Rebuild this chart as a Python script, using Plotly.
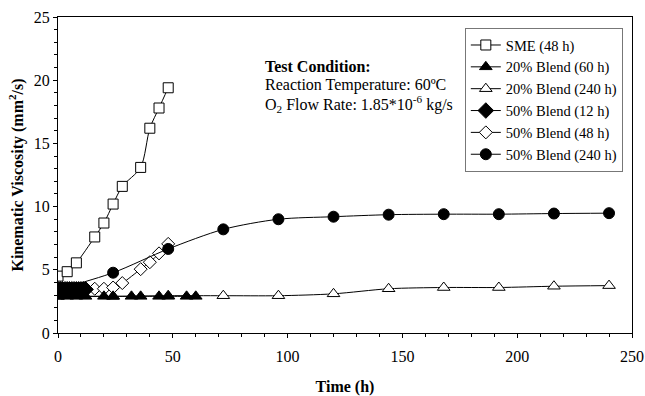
import plotly.graph_objects as go

# SME (48 h)
sme_t = [0, 4, 8, 16, 20, 24, 28, 36, 40, 44, 48]
sme_v = [4.5, 4.85, 5.55, 7.6, 8.7, 10.2, 11.6, 13.1, 16.2, 17.8, 19.4]

# 20% Blend (60 h)
b20s_t = [0, 4, 8, 12, 20, 24, 32, 36, 44, 48, 56, 60]
b20s_v = [2.9, 2.9, 2.9, 2.9, 2.9, 2.9, 2.9, 2.9, 2.9, 2.9, 2.9, 2.9]

# 20% Blend (240 h)
b20l_t = [0, 24, 48, 72, 96, 120, 144, 168, 192, 216, 240]
b20l_v = [2.9, 2.9, 2.95, 2.95, 2.95, 3.1, 3.5, 3.6, 3.6, 3.7, 3.75]

# 50% Blend (12 h)
b50s_t = [0, 1, 2, 3, 4, 5, 6, 7, 8, 9, 10, 11, 12]
b50s_v = [3.45, 3.45, 3.45, 3.45, 3.45, 3.45, 3.45, 3.45, 3.45, 3.45, 3.45, 3.45, 3.45]

# 50% Blend (48 h)
b50m_t = [0, 4, 8, 12, 16, 20, 24, 28, 36, 40, 44, 48]
b50m_v = [3.45, 3.45, 3.45, 3.45, 3.5, 3.5, 3.6, 3.95, 5.05, 5.6, 6.3, 7.05]

# 50% Blend (240 h)
b50l_t = [0, 24, 48, 72, 96, 120, 144, 168, 192, 216, 240]
b50l_v = [3.45, 4.77, 6.65, 8.2, 9.0, 9.2, 9.36, 9.4, 9.4, 9.45, 9.48]

names = ["SME (48 h)", "20% Blend (60 h)", "20% Blend (240 h)",
         "50% Blend (12 h)", "50% Blend (48 h)", "50% Blend (240 h)"]

FONT = "Liberation Serif, Times New Roman, serif"

fig = go.Figure()

def add(t, v, name, symbol, size, fill, rank):
    fig.add_trace(go.Scatter(
        x=t, y=v, name=name, mode="lines+markers", legendrank=rank,
        line=dict(color="black", width=1, shape="spline", smoothing=0.8),
        marker=dict(symbol=symbol, size=size,
                    color="black" if fill else "white",
                    line=dict(color="black", width=1)),
    ))

# drawing order: open markers first, filled markers on top; legend order by rank
add(sme_t, sme_v, names[0], "square", 10, False, 1)
add(b20l_t, b20l_v, names[2], "triangle-up", 11, False, 3)
add(b50m_t, b50m_v, names[4], "diamond", 10, False, 5)
add(b20s_t, b20s_v, names[1], "triangle-up", 11, True, 2)
add(b50s_t, b50s_v, names[3], "diamond", 12, True, 4)
add(b50l_t, b50l_v, names[5], "circle", 11, True, 6)

fig.add_annotation(x=89.5, y=21.05, xref="x", yref="y", xanchor="left", yanchor="middle",
                   text="<b>Test Condition:</b>", showarrow=False,
                   font=dict(family=FONT, size=16, color="black"))
fig.add_annotation(x=89.5, y=19.6, xref="x", yref="y", xanchor="left", yanchor="middle",
                   text="Reaction Temperature: 60ºC", showarrow=False,
                   font=dict(family=FONT, size=16, color="black"))
fig.add_annotation(x=89.5, y=18.15, xref="x", yref="y", xanchor="left", yanchor="middle",
                   text="O<sub>2</sub> Flow Rate: 1.85*10<sup>-6</sup> kg/s", showarrow=False,
                   font=dict(family=FONT, size=16, color="black"))

fig.update_layout(
    width=645, height=396,
    margin=dict(l=58, r=13, t=17, b=63, autoexpand=False),
    paper_bgcolor="white", plot_bgcolor="white",
    font=dict(family=FONT, size=16, color="black"),
    showlegend=True,
    legend=dict(x=0.984, y=0.965, xanchor="right", yanchor="top",
                bgcolor="white", bordercolor="#777777", borderwidth=1,
                font=dict(family=FONT, size=14.5, color="black"),
                tracegroupgap=0, itemwidth=30, traceorder="normal"),
)

fig.update_xaxes(range=[0, 250], tickvals=[0, 50, 100, 150, 200, 250],
                 showgrid=False, zeroline=False, automargin=False,
                 showline=True, linecolor="black", linewidth=1, mirror=True,
                 ticks="outside", ticklen=4, tickcolor="black",
                 minor=dict(dtick=10, ticks="outside", ticklen=3, tickcolor="black"),
                 ticklabelstandoff=5,
                 title=dict(text="<b>Time (h)</b>", font=dict(family=FONT, size=16), standoff=18),
                 tickfont=dict(family=FONT, size=16))
fig.update_yaxes(range=[0, 25], tickvals=[0, 5, 10, 15, 20, 25],
                 showgrid=False, zeroline=False, automargin=False,
                 showline=True, linecolor="black", linewidth=1, mirror=True,
                 ticks="outside", ticklen=4, tickcolor="black",
                 minor=dict(dtick=1, ticks="outside", ticklen=3, tickcolor="black"),
                 title=dict(text="<b>Kinematic Viscosity (mm<sup>2</sup>/s)</b>",
                            font=dict(family=FONT, size=16), standoff=6),
                 tickfont=dict(family=FONT, size=16))

fig.write_html("out.html")
